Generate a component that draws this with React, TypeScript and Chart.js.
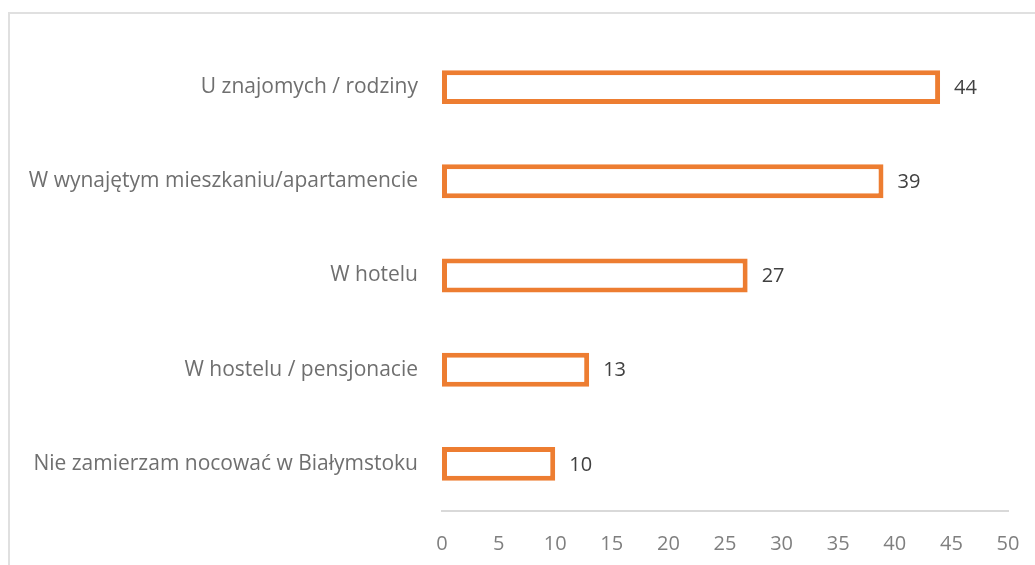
import React, { useEffect, useRef } from "react";
import { Chart, registerables } from "chart.js";

Chart.register(...registerables);

const categories = [
  "U znajomych / rodziny",
  "W wynajętym mieszkaniu/apartamencie",
  "W hotelu",
  "W hostelu / pensjonacie",
  "Nie zamierzam nocować w Białymstoku",
];
const values = [44, 39, 27, 13, 10];
const axisMin = 0;
const axisMax = 50;
const axisStep = 5;

const FONT = "'Open Sans', 'Noto Sans', sans-serif";

const dataLabelPlugin = {
  id: "dataLabels",
  afterDatasetsDraw(chart: any) {
    const ctx = chart.ctx;
    const meta = chart.getDatasetMeta(0);
    ctx.save();
    ctx.font = `20px ${FONT}`;
    ctx.fillStyle = "#404040";
    ctx.textAlign = "left";
    ctx.textBaseline = "middle";
    meta.data.forEach((bar: any, i: number) => {
      const v = chart.data.datasets[0].data[i];
      ctx.fillText(String(v), bar.x + 14, bar.y + 1);
    });
    ctx.restore();
  },
};

export default function App() {
  const ref = useRef<HTMLCanvasElement | null>(null);

  useEffect(() => {
    if (!ref.current) return;
    const chart = new Chart(ref.current, {
      type: "bar",
      data: {
        labels: categories,
        datasets: [
          {
            data: values,
            backgroundColor: "#ffffff",
            borderColor: "#ED7D31",
            borderWidth: 5,
            borderSkipped: false,
            categoryPercentage: 1,
            barPercentage: 0.36,
          },
        ],
      },
      options: {
        indexAxis: "y",
        responsive: false,
        animation: false,
        layout: { padding: { top: 40, right: 27, left: 0, bottom: 0 } },
        plugins: {
          legend: { display: false },
          tooltip: { enabled: false },
          title: { display: false },
        },
        scales: {
          x: {
            min: axisMin,
            max: axisMax,
            grid: { display: false, drawTicks: false },
            border: { display: true, color: "#d9d9d9", width: 2 },
            ticks: {
              stepSize: axisStep,
              padding: 21,
              color: "#7f7f7f",
              font: { family: FONT, size: 20 },
              maxRotation: 0,
            },
            afterFit(scale: any) {
              scale.height = 54;
              scale.paddingLeft = 0;
              scale.paddingRight = 0;
            },
          },
          y: {
            grid: { display: false, drawTicks: false },
            border: { display: false },
            ticks: {
              padding: 24,
              color: "#6f6f6f",
              font: { family: FONT, size: 21 },
            },
            afterFit(scale: any) {
              scale.width = 442;
              scale.paddingTop = 0;
              scale.paddingBottom = 0;
            },
          },
        },
      },
      plugins: [dataLabelPlugin],
    } as any);
    return () => chart.destroy();
  }, []);

  return (
    <div
      style={{
        position: "fixed",
        left: 0,
        top: 0,
        width: 1035,
        height: 565,
        background: "#ffffff",
        overflow: "hidden",
      }}
    >
      <div
        style={{
          position: "absolute",
          left: 8,
          top: 12,
          width: 1100,
          height: 700,
          borderTop: "2px solid #e0e0e0",
          borderLeft: "2px solid #e0e0e0",
          boxSizing: "border-box",
        }}
      />
      <canvas
        ref={ref}
        width={1035}
        height={565}
        style={{ position: "absolute", left: 0, top: 0, display: "block" }}
      />
    </div>
  );
}
